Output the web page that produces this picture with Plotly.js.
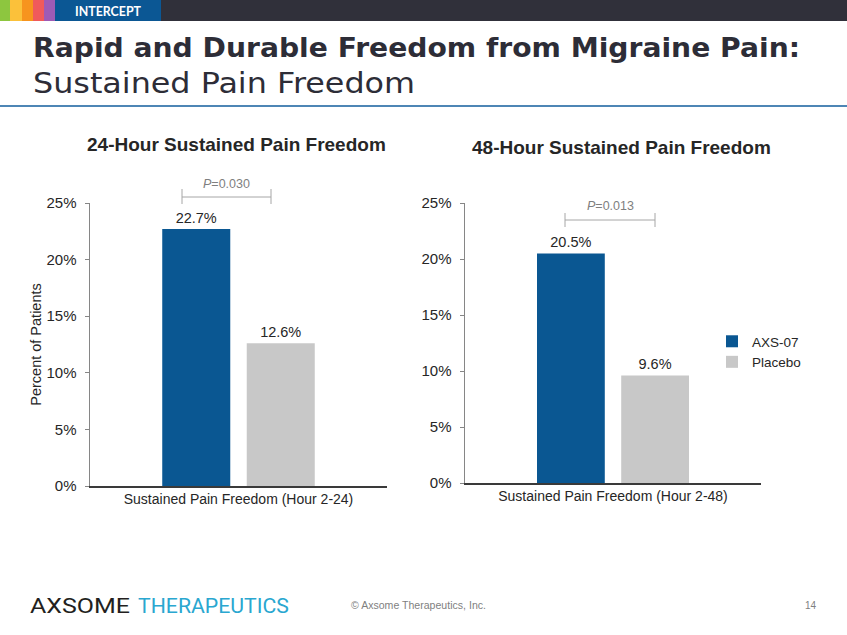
<!DOCTYPE html>
<html>
<head>
<meta charset="utf-8">
<script src="https://cdn.plot.ly/plotly-3.0.1.min.js"></script>
<style>
  html, body { margin:0; padding:0; background:#fff; }
  #wrap { position:relative; width:847px; height:635px; overflow:hidden; }
  #plot { position:absolute; left:0; top:0; width:847px; height:635px; }
  #deco { position:absolute; left:0; top:0; pointer-events:none; }
</style>
</head>
<body>
<div id="wrap">
  <div id="plot"></div>
  <svg id="deco" width="847" height="635" xmlns="http://www.w3.org/2000/svg">
    <rect x="0" y="0" width="847" height="21" fill="#30303a"/>
    <rect x="0" y="0" width="10" height="21" fill="#8dc63f"/>
    <rect x="10" y="0" width="12" height="21" fill="#fbc13a"/>
    <rect x="22" y="0" width="11" height="21" fill="#f7941e"/>
    <rect x="33" y="0" width="11" height="21" fill="#f05a5b"/>
    <rect x="44" y="0" width="11" height="21" fill="#9e5bb5"/>
    <rect x="55" y="0" width="106" height="21" fill="#0b5794"/>
    <text x="75" y="15.5" font-family="Lato, 'DejaVu Sans', sans-serif" font-weight="bold" font-size="13" fill="#ffffff" textLength="66" lengthAdjust="spacingAndGlyphs">INTERCEPT</text>
    <text x="33" y="57" font-family="'DejaVu Sans', sans-serif" font-weight="bold" font-size="27" fill="#2d2d37" textLength="767" lengthAdjust="spacingAndGlyphs">Rapid and Durable Freedom from Migraine Pain:</text>
    <text x="33" y="93" font-family="'DejaVu Sans', sans-serif" font-size="28" fill="#2d2d37" textLength="382" lengthAdjust="spacingAndGlyphs">Sustained Pain Freedom</text>
    <line x1="0" y1="106" x2="847" y2="106" stroke="#4d86b5" stroke-width="2"/>
    <text x="30" y="613" font-family="Roboto, 'Liberation Sans', sans-serif" font-weight="400" font-size="21" fill="#231f20" textLength="100" lengthAdjust="spacingAndGlyphs">AXSOME</text>
    <text x="138" y="613" font-family="Roboto, 'Liberation Sans', sans-serif" font-weight="400" font-size="21" fill="#2aa7d0" textLength="151" lengthAdjust="spacingAndGlyphs">THERAPEUTICS</text>
    <text x="351" y="609" font-family="'Liberation Sans', Arial, sans-serif" font-size="10" fill="#7f7f7f" textLength="135" lengthAdjust="spacingAndGlyphs">© Axsome Therapeutics, Inc.</text>
    <text x="805" y="609" font-family="'Liberation Sans', Arial, sans-serif" font-size="10" fill="#7f7f7f">14</text>
  </svg>
</div>
<script>
// ---- data ----
const categories24 = ['Sustained Pain Freedom (Hour 2-24)'];
const categories48 = ['Sustained Pain Freedom (Hour 2-48)'];
const seriesNames = ['AXS-07', 'Placebo'];
const axs07_24 = [22.7];
const placebo_24 = [12.6];
const axs07_48 = [20.5];
const placebo_48 = [9.6];
const yTickVals = [0, 5, 10, 15, 20, 25];
const chartTitles = ['24-Hour Sustained Pain Freedom', '48-Hour Sustained Pain Freedom'];
const pValues = ['0.030', '0.013'];

// ---- helpers ----
const W = 847, H = 635;
const px = x => x / W;
const py = y => 1 - y / H;
const fmt = v => v.toFixed(1) + '%';
const FONT = "'Liberation Sans', Arial, sans-serif";
const BLUE = '#0a5792', GREY = '#c8c8c8';

function barTrace(name, cats, vals, color, xa, ya, showlegend) {
  return {
    type: 'bar', name: name, x: cats, y: vals,
    xaxis: xa, yaxis: ya,
    marker: { color: color },
    text: vals.map(fmt), textposition: 'outside', cliponaxis: false,
    textfont: { family: FONT, size: 14.5, color: '#262626' },
    showlegend: showlegend, hoverinfo: 'skip'
  };
}

const data = [
  barTrace(seriesNames[0], categories24, axs07_24, BLUE, 'x', 'y', false),
  barTrace(seriesNames[1], categories24, placebo_24, GREY, 'x', 'y', false),
  barTrace(seriesNames[0], categories48, axs07_48, BLUE, 'x2', 'y2', true),
  barTrace(seriesNames[1], categories48, placebo_48, GREY, 'x2', 'y2', true)
];

function yAxis(domain, anchor, title) {
  return {
    domain: domain, anchor: anchor, range: [0, 25],
    tickvals: yTickVals, ticktext: yTickVals.map(v => v + '%'),
    ticks: 'outside', ticklen: 4, tickcolor: '#868686', tickwidth: 1,
    showline: true, linecolor: '#868686', linewidth: 1.5,
    showgrid: false, zeroline: false,
    ticklabelstandoff: 5,
    tickfont: { family: FONT, size: 15, color: '#262626' },
    title: title ? { text: title, font: { family: FONT, size: 14.5, color: '#262626' }, standoff: 1 } : { text: '' },
    fixedrange: true
  };
}
function xAxis(domain, anchor) {
  return {
    domain: domain, anchor: anchor, type: 'category',
    showline: true, linecolor: '#3a3a3a', linewidth: 1.5,
    ticks: '', showgrid: false, zeroline: false,
    tickfont: { family: FONT, size: 14, color: '#262626' },
    fixedrange: true
  };
}

const bracket = (x1, x2, y, yt, yb) => ([
  { type: 'line', xref: 'paper', yref: 'paper', x0: px(x1), x1: px(x2), y0: py(y), y1: py(y), line: { color: '#a6a6a6', width: 1 } },
  { type: 'line', xref: 'paper', yref: 'paper', x0: px(x1), x1: px(x1), y0: py(yt), y1: py(yb), line: { color: '#a6a6a6', width: 1 } },
  { type: 'line', xref: 'paper', yref: 'paper', x0: px(x2), x1: px(x2), y0: py(yt), y1: py(yb), line: { color: '#a6a6a6', width: 1 } }
]);

const layout = {
  width: W, height: H,
  margin: { l: 0, r: 0, t: 0, b: 0 },
  paper_bgcolor: 'rgba(0,0,0,0)', plot_bgcolor: 'rgba(0,0,0,0)',
  barmode: 'group', bargap: 0.431, bargroupgap: 0.195,
  font: { family: FONT, color: '#262626' },
  xaxis: xAxis([px(90), px(387)], 'y'),
  yaxis: yAxis([py(486), py(203)], 'x', 'Percent of Patients'),
  xaxis2: xAxis([px(465), px(761)], 'y2'),
  yaxis2: yAxis([py(483), py(203)], 'x2', null),
  showlegend: true,
  legend: {
    x: px(712), y: py(326), xanchor: 'left', yanchor: 'top',
    font: { family: FONT, size: 13.5, color: '#262626' },
    bgcolor: 'rgba(0,0,0,0)', tracegroupgap: 0, itemclick: false, itemdoubleclick: false
  },
  shapes: [].concat(bracket(182, 271, 197, 189, 204), bracket(565, 655, 220, 213, 227)),
  annotations: [
    { text: '<b>' + chartTitles[0] + '</b>', x: px(236), y: py(144), xref: 'paper', yref: 'paper', showarrow: false, xanchor: 'center', yanchor: 'middle', font: { family: FONT, size: 19, color: '#262626' } },
    { text: '<b>' + chartTitles[1] + '</b>', x: px(621), y: py(147), xref: 'paper', yref: 'paper', showarrow: false, xanchor: 'center', yanchor: 'middle', font: { family: FONT, size: 19, color: '#262626' } },
    { text: '<i>P</i>=' + pValues[0], x: px(226), y: py(184), xref: 'paper', yref: 'paper', showarrow: false, xanchor: 'center', yanchor: 'middle', font: { family: FONT, size: 12.5, color: '#7f7f7f' } },
    { text: '<i>P</i>=' + pValues[1], x: px(610), y: py(206), xref: 'paper', yref: 'paper', showarrow: false, xanchor: 'center', yanchor: 'middle', font: { family: FONT, size: 12.5, color: '#7f7f7f' } }
  ]
};

Plotly.newPlot('plot', data, layout, { displayModeBar: false, staticPlot: true });
</script>
</body>
</html>
